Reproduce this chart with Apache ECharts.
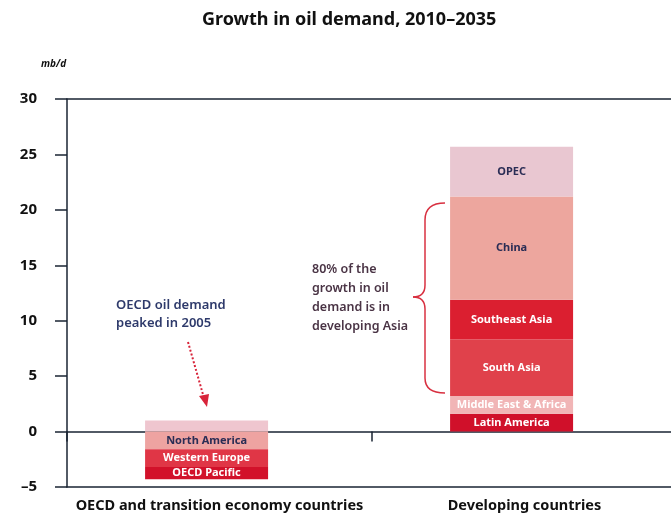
<!DOCTYPE html>
<html>
<head>
<meta charset="utf-8">
<script src="https://cdn.jsdelivr.net/npm/echarts@6/dist/echarts.min.js"></script>
<style>
  html, body { margin: 0; padding: 0; background: #fff; }
  #main { width: 671px; height: 517px; }
</style>
</head>
<body>
<div id="main"></div>
<script>
// categories on the x axis
const categories = ['OECD and transition economy countries', 'Developing countries']

// OECD side: first value sits above zero (unlabelled), the rest fall below
const oecdNames = ['Other', 'North America', 'Western Europe', 'OECD Pacific']
const oecdValues = [1.0, -1.6, -1.6, -1.1]
const oecdColors = ['#efc6cf', '#eea3a1', '#e03646', '#d2112a']
const oecdLabelColors = ['#2a2d55', '#2a2d55', '#fff', '#fff']

// developing side, bottom to top
const devNames = ['Latin America', 'Middle East & Africa', 'South Asia', 'Southeast Asia', 'China', 'OPEC']
const devValues = [1.6, 1.6, 5.1, 3.6, 9.3, 4.5]
const devColors = ['#d0102a', '#f1b5b6', '#e0414b', '#db1f30', '#eda69e', '#e9c7d1']
const devLabelColors = ['#fff', '#fff', '#fff', '#fff', '#2a2d55', '#2a2d55']

const yTicks = { min: -5, max: 30, step: 5 }

const lineColor = '#1a2433'
const braceColor = '#d83040'
const font = 'Noto Sans'

function segLabel(color, show) {
  return {
    show: show,
    position: 'inside',
    formatter: '{a}',
    color: color,
    fontFamily: font,
    fontSize: 11,
    fontWeight: 'bold'
  }
}

var series = []
oecdNames.forEach(function (name, i) {
  series.push({
    name: name,
    type: 'bar',
    stack: 'total',
    barWidth: 123,
    barGap: '-79%',
    data: [oecdValues[i], '-'],
    itemStyle: { color: oecdColors[i] },
    label: segLabel(oecdLabelColors[i], name !== 'Other')
  })
})
devNames.forEach(function (name, i) {
  series.push({
    name: name,
    type: 'bar',
    stack: 'total',
    barWidth: 123,
    barGap: '-79%',
    data: ['-', devValues[i]],
    itemStyle: { color: devColors[i] },
    label: segLabel(devLabelColors[i], true)
  })
})
// empty second stack, only there to nudge the real bars left of centre
series.push({
  name: 'pad',
  type: 'bar',
  stack: 'pad',
  barWidth: 123,
  barGap: '-79%',
  data: ['-', '-']
})

// curly brace next to the developing Asia segments
var braceStyle = { stroke: braceColor, lineWidth: 1.5, fill: null }
var brace = [
  { type: 'bezierCurve', shape: { x1: 445, y1: 203, cpx1: 425, cpy1: 203, x2: 425, y2: 220 }, style: braceStyle },
  { type: 'line', shape: { x1: 425, y1: 220, x2: 425, y2: 285 }, style: braceStyle },
  { type: 'bezierCurve', shape: { x1: 425, y1: 285, cpx1: 425, cpy1: 297, x2: 413, y2: 297 }, style: braceStyle },
  { type: 'bezierCurve', shape: { x1: 413, y1: 297, cpx1: 425, cpy1: 297, x2: 425, y2: 309 }, style: braceStyle },
  { type: 'line', shape: { x1: 425, y1: 309, x2: 425, y2: 378 }, style: braceStyle },
  { type: 'bezierCurve', shape: { x1: 425, y1: 378, cpx1: 425, cpy1: 393, x2: 445, y2: 393 }, style: braceStyle }
]

var myChart = echarts.init(document.getElementById('main'))
myChart.setOption({
  animation: false,
  title: {
    text: 'Growth in oil demand, 2010–2035',
    left: 197,
    top: 6,
    textStyle: { fontFamily: font, fontSize: 18, fontWeight: 'bold', color: '#111' }
  },
  grid: { left: 67, top: 99, width: 610, height: 388, containLabel: false, outerBoundsMode: 'none' },
  xAxis: [
    {
      // zero line with the divider tick between the two groups
      type: 'category',
      data: categories,
      axisLine: { onZero: true, lineStyle: { color: lineColor, width: 1.5 } },
      axisTick: { show: true, interval: 0, length: 10, lineStyle: { color: lineColor, width: 1.5 } },
      axisLabel: { show: false }
    },
    {
      type: 'category',
      data: categories,
      position: 'top',
      axisLine: { lineStyle: { color: lineColor, width: 1.5 } },
      axisTick: { show: false },
      axisLabel: { show: false }
    },
    {
      type: 'category',
      data: categories,
      position: 'bottom',
      axisLine: { onZero: false, lineStyle: { color: lineColor, width: 1.5 } },
      axisTick: { show: false },
      axisLabel: {
        interval: 0,
        margin: 11,
        color: '#111',
        fontFamily: font,
        fontSize: 14.5,
        fontWeight: 'bold'
      }
    }
  ],
  yAxis: {
    type: 'value',
    min: yTicks.min,
    max: yTicks.max,
    interval: yTicks.step,
    axisLine: { show: true, lineStyle: { color: lineColor, width: 1.5 } },
    axisTick: { show: true, length: 12, lineStyle: { color: lineColor, width: 1.5 } },
    splitLine: { show: false },
    axisLabel: {
      margin: 30,
      color: '#111',
      fontFamily: font,
      fontSize: 15,
      fontWeight: 'bold',
      formatter: function (v) { return String(v).replace('-', '–') }
    }
  },
  series: series,
  graphic: [
    {
      type: 'text',
      left: 41,
      top: 59,
      style: { text: 'mb/d', font: 'italic bold 10px ' + font, fill: '#111' }
    },
    {
      type: 'text',
      left: 116,
      top: 296,
      style: {
        text: 'OECD oil demand\npeaked in 2005',
        font: '600 13px ' + font,
        lineHeight: 18,
        fill: '#2e3a6b'
      }
    },
    {
      type: 'line',
      shape: { x1: 188, y1: 342, x2: 204, y2: 398 },
      style: { stroke: '#d8243a', lineWidth: 2, lineDash: [2, 2] }
    },
    {
      type: 'polygon',
      shape: { points: [[199, 396], [209, 394], [207, 407]] },
      style: { fill: '#d8243a' }
    },
    {
      type: 'text',
      left: 312,
      top: 260,
      style: {
        text: '80% of the\ngrowth in oil\ndemand is in\ndeveloping Asia',
        font: '600 12.5px ' + font,
        lineHeight: 19,
        fill: '#4a3445'
      }
    }
  ].concat(brace)
})
</script>
</body>
</html>
